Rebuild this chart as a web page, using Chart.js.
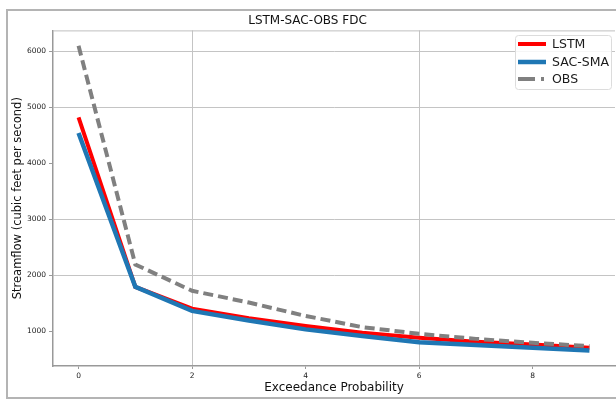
<!DOCTYPE html>
<html>
<head>
<meta charset="utf-8">
<script src="https://cdn.jsdelivr.net/npm/chart.js@4.4.1/dist/chart.umd.min.js"></script>
<style>
  html, body { margin: 0; padding: 0; background: #fff; }
  canvas { display: block; }
</style>
</head>
<body>
<canvas id="fdc_chart" width="616" height="400"></canvas>
<script>
// flow duration curve: exceedance index vs streamflow (cfs)
const exceedance = [0, 1, 2, 3, 4, 5, 6, 7, 8, 9];
const lstm_flow = [4820, 1790, 1400, 1230, 1090, 970, 880, 810, 760, 700];
const sac_flow = [4540, 1790, 1360, 1190, 1030, 910, 800, 750, 700, 650];
const obs_flow = [6100, 2190, 1720, 1510, 1270, 1070, 950, 860, 790, 730];

const x_ticks = [0, 2, 4, 6, 8];
const y_ticks = [1000, 2000, 3000, 4000, 5000, 6000];
const x_grid = [2, 6];
const y_grid = [2000, 3000, 5000, 6000];

const FONT = "'DejaVu Sans', sans-serif";

function toPoints(vals) {
    return vals.map((v, i) => ({ x: exceedance[i], y: v }));
}

// outer frame and plot box
const framePlugin = {
    id: 'frame',
    beforeDraw(chart) {
        const ctx = chart.ctx;
        ctx.save();
        ctx.fillStyle = '#fff';
        ctx.fillRect(0, 0, chart.width, chart.height);
        ctx.strokeStyle = '#b4b4b4';
        ctx.lineWidth = 2;
        ctx.beginPath();
        ctx.moveTo(616, 10);
        ctx.lineTo(7, 10);
        ctx.lineTo(7, 398);
        ctx.lineTo(616, 398);
        ctx.stroke();
        ctx.restore();
    },
    beforeDatasetsDraw(chart) {
        const a = chart.chartArea;
        const ctx = chart.ctx;
        ctx.save();
        ctx.strokeStyle = '#c0c0c0';
        ctx.lineWidth = 1;
        ctx.beginPath();
        ctx.moveTo(a.left, a.top + 0.5);
        ctx.lineTo(a.right, a.top + 0.5);
        ctx.stroke();
        ctx.restore();
    }
};

// legend box in the upper right of the plot
const legendPlugin = {
    id: 'innerLegend',
    afterDraw(chart) {
        const ctx = chart.ctx;
        const x0 = 515, y0 = 35, w = 96, h = 54, r = 3;
        ctx.save();
        ctx.fillStyle = 'rgba(255,255,255,0.85)';
        ctx.strokeStyle = '#dcdcdc';
        ctx.lineWidth = 1;
        ctx.beginPath();
        ctx.roundRect(x0 + 0.5, y0 + 0.5, w, h, r);
        ctx.fill();
        ctx.stroke();
        const rows = [44, 62, 79];
        chart.data.datasets.forEach((ds, i) => {
            const y = rows[i];
            ctx.strokeStyle = ds.borderColor;
            ctx.lineWidth = ds.borderWidth;
            ctx.setLineDash(ds.borderDash ? [17, 6, 3, 6] : []);
            ctx.beginPath();
            ctx.moveTo(518, y);
            ctx.lineTo(546, y);
            ctx.stroke();
            ctx.setLineDash([]);
            ctx.fillStyle = '#1a1a1a';
            ctx.font = '12.5px ' + FONT;
            ctx.textBaseline = 'middle';
            ctx.textAlign = 'left';
            ctx.fillText(ds.label, 552, y + 1);
        });
        ctx.restore();
    }
};

const config_fdc = {
    type: 'line',
    data: {
        datasets: [
            {
                label: 'LSTM',
                data: toPoints(lstm_flow),
                borderColor: '#ff0000',
                borderWidth: 4,
                pointRadius: 0,
                order: 3
            },
            {
                label: 'SAC-SMA',
                data: toPoints(sac_flow),
                borderColor: '#1f77b4',
                borderWidth: 4.5,
                pointRadius: 0,
                order: 2
            },
            {
                label: 'OBS',
                data: toPoints(obs_flow),
                borderColor: '#808080',
                borderWidth: 4,
                borderDash: [10, 5],
                pointRadius: 0,
                order: 1
            }
        ]
    },
    options: {
        responsive: false,
        animation: false,
        devicePixelRatio: 1,
        layout: { padding: { left: 0, right: 1, top: 0, bottom: 0 } },
        plugins: {
            legend: { display: false },
            tooltip: { enabled: false },
            title: {
                display: true,
                text: 'LSTM-SAC-OBS FDC',
                color: '#111',
                font: { family: FONT, size: 12, weight: 'normal' },
                padding: { top: 14, bottom: 2 }
            }
        },
        scales: {
            x: {
                type: 'linear',
                min: -0.45,
                max: 9.45,
                afterBuildTicks: (scale) => { scale.ticks = x_ticks.map(v => ({ value: v })); },
                afterFit: (scale) => { scale.height = 34; },
                border: { color: '#999', width: 1.5 },
                grid: {
                    color: (c) => (c.tick && x_grid.includes(c.tick.value)) ? '#c4c4c4' : 'rgba(0,0,0,0)',
                    tickColor: '#999',
                    tickLength: 3,
                    lineWidth: 1
                },
                ticks: {
                    color: '#222',
                    font: { family: FONT, size: 7.5 },
                    padding: 3,
                    maxRotation: 0,
                    callback: (v) => String(v)
                },
                title: {
                    display: true,
                    text: 'Exceedance Probability',
                    color: '#111',
                    font: { family: FONT, size: 12 },
                    padding: { top: 0, bottom: 5 }
                }
            },
            y: {
                type: 'linear',
                min: 375,
                max: 6375,
                afterBuildTicks: (scale) => { scale.ticks = y_ticks.map(v => ({ value: v })); },
                afterFit: (scale) => { scale.width = 53; },
                border: { color: '#999', width: 1.5 },
                grid: {
                    color: (c) => (c.tick && y_grid.includes(c.tick.value)) ? '#c4c4c4' : 'rgba(0,0,0,0)',
                    tickColor: '#999',
                    tickLength: 4,
                    lineWidth: 1
                },
                ticks: {
                    color: '#222',
                    font: { family: FONT, size: 7.5 },
                    padding: 3,
                    callback: (v) => String(v)
                },
                title: {
                    display: true,
                    text: 'Streamflow (cubic feet per second)',
                    color: '#111',
                    font: { family: FONT, size: 11.5 },
                    padding: { top: 11, bottom: 0 }
                }
            }
        }
    },
    plugins: [framePlugin, legendPlugin]
};

const ctx_fdc = document.getElementById('fdc_chart').getContext('2d');
const fdcChart = new Chart(ctx_fdc, config_fdc);
</script>
</body>
</html>
